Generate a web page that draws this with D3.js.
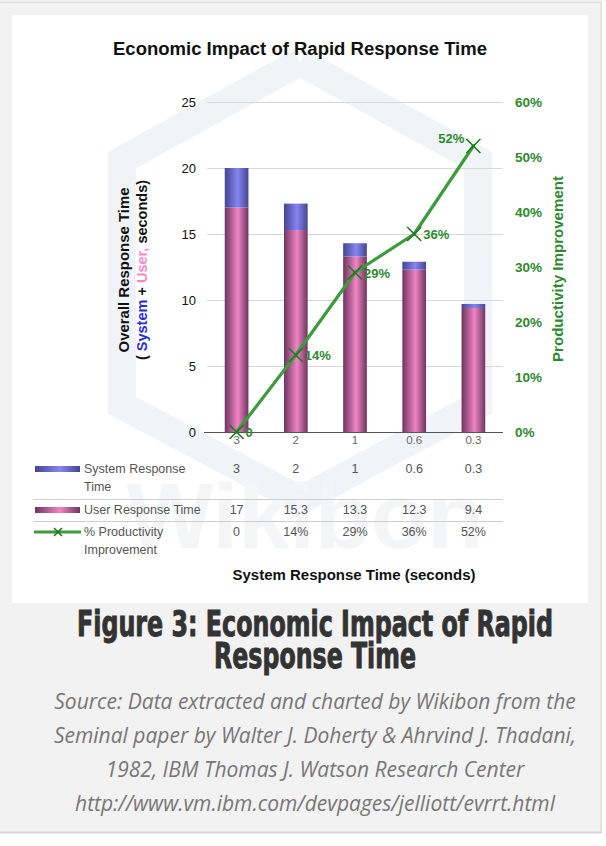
<!DOCTYPE html>
<html>
<head>
<meta charset="utf-8">
<script src="https://cdn.jsdelivr.net/npm/d3@7"></script>
<style>
  html, body { margin: 0; padding: 0; background: #ffffff; }
  svg { display: block; }
</style>
</head>
<body>
<script>
// chart values
var categories = ["3", "2", "1", "0.6", "0.3"];
var systemTime = [3, 2, 1, 0.6, 0.3];
var userTime = [17, 15.3, 13.3, 12.3, 9.4];
var productivity = [0, 14, 29, 36, 52];
var productivityLabels = ["0", "14%", "29%", "36%", "52%"];
var leftTicks = [0, 5, 10, 15, 20, 25];
var rightTicks = [0, 10, 20, 30, 40, 50, 60];
var sourceLines = [
    "Source: Data extracted and charted by Wikibon from the",
    "Seminal paper by Walter J. Doherty & Ahrvind J. Thadani,",
    "1982, IBM Thomas J. Watson Research Center",
    "http://www.vm.ibm.com/devpages/jelliott/evrrt.html"
];

var width = 606, height = 846;
var plot = { left: 207, right: 503, top: 102, bottom: 432 };
var green = "#2f8a2f";
var font = "'Liberation Sans', Arial, sans-serif";

var svg = d3.select("body").append("svg")
    .attr("width", width)
    .attr("height", height);

// gradients for the cylinder-like bars
var defs = svg.append("defs");
function cylinder(id, edge, mid) {
    var g = defs.append("linearGradient").attr("id", id)
        .attr("x1", "0%").attr("x2", "100%").attr("y1", "0%").attr("y2", "0%");
    g.append("stop").attr("offset", "0%").attr("stop-color", edge);
    g.append("stop").attr("offset", "55%").attr("stop-color", mid);
    g.append("stop").attr("offset", "100%").attr("stop-color", edge);
}
cylinder("gUser", "#6d3560", "#f184c4");
cylinder("gSys", "#454590", "#8585f2");

// page background and borders
svg.append("rect").attr("x", 0).attr("y", 0).attr("width", 602).attr("height", 833)
    .attr("fill", "#f2f2f2");
svg.append("line").attr("x1", 0).attr("x2", 602).attr("y1", 2.5).attr("y2", 2.5)
    .attr("stroke", "#dedede").attr("stroke-width", 1.5);
svg.append("line").attr("x1", 601).attr("x2", 601).attr("y1", 2).attr("y2", 833)
    .attr("stroke", "#dedede").attr("stroke-width", 1.5);
svg.append("line").attr("x1", 0).attr("x2", 602).attr("y1", 832.5).attr("y2", 832.5)
    .attr("stroke", "#d4d4d4").attr("stroke-width", 2);

// white chart panel
svg.append("rect").attr("x", 12).attr("y", 15).attr("width", 576).attr("height", 588)
    .attr("fill", "#ffffff");

// faint watermark
var wm = svg.append("g").attr("opacity", 0.45);
var hex = d3.line()([[300, 62], [478, 160], [478, 405], [300, 500], [122, 405], [122, 160], [300, 62]]);
wm.append("path").attr("d", hex).attr("fill", "none")
    .attr("stroke", "#e0e6ee").attr("stroke-width", 28);
wm.append("text").attr("x", 305).attr("y", 548).attr("text-anchor", "middle")
    .style("font-family", font)
    .style("font-size", "92px").style("font-weight", "bold")
    .attr("fill", "#e8ebee").text("Wikibon");

// scales
var xScale = d3.scaleBand().domain(categories)
    .range([plot.left, plot.right]).paddingInner(0.6).paddingOuter(0.3);
var yScale = d3.scaleLinear().domain([0, 25]).range([plot.bottom, plot.top]);
var y2Scale = d3.scaleLinear().domain([0, 60]).range([plot.bottom, plot.top]);

// title
svg.append("text").attr("x", 300).attr("y", 55).attr("text-anchor", "middle")
    .attr("textLength", 374).attr("lengthAdjust", "spacingAndGlyphs")
    .style("font-family", font)
    .style("font-size", "18px").style("font-weight", "bold")
    .attr("fill", "#111").text("Economic Impact of Rapid Response Time");

// gridlines
svg.append("g").selectAll("line").data(leftTicks.slice(1)).enter().append("line")
    .attr("x1", plot.left).attr("x2", plot.right)
    .attr("y1", function(d) { return yScale(d) + 0.5; })
    .attr("y2", function(d) { return yScale(d) + 0.5; })
    .attr("stroke", "#d8d8d8").attr("stroke-width", 1);

// left axis
var leftAxis = svg.append("g")
    .attr("transform", "translate(" + (plot.left - 11) + ",0)")
    .call(d3.axisLeft(yScale).tickValues(leftTicks).tickSize(0).tickPadding(0));
leftAxis.select(".domain").remove();
leftAxis.selectAll("text")
    .style("font-family", font)
    .style("font-size", "13px").attr("fill", "#111");

// right axis
var rightAxis = svg.append("g")
    .attr("transform", "translate(" + (plot.right + 12) + ",0)")
    .call(d3.axisRight(y2Scale).tickValues(rightTicks).tickSize(0).tickPadding(0)
        .tickFormat(function(d) { return d + "%"; }));
rightAxis.select(".domain").remove();
rightAxis.selectAll("text")
    .style("font-family", font)
    .style("font-size", "13.5px").style("font-weight", "bold").attr("fill", green);

// bars: user at bottom, system stacked on top
var bars = svg.append("g");
bars.selectAll(".user").data(categories).enter().append("rect")
    .attr("class", "user")
    .attr("x", function(d) { return xScale(d); })
    .attr("width", xScale.bandwidth())
    .attr("y", function(d, i) { return yScale(userTime[i]); })
    .attr("height", function(d, i) { return yScale(0) - yScale(userTime[i]); })
    .attr("fill", "url(#gUser)");
bars.selectAll(".sys").data(categories).enter().append("rect")
    .attr("class", "sys")
    .attr("x", function(d) { return xScale(d); })
    .attr("width", xScale.bandwidth())
    .attr("y", function(d, i) { return yScale(userTime[i] + systemTime[i]); })
    .attr("height", function(d, i) { return yScale(userTime[i]) - yScale(userTime[i] + systemTime[i]); })
    .attr("fill", "url(#gSys)");

// x axis line and category labels
var xAxis = svg.append("g")
    .attr("transform", "translate(0," + plot.bottom + ")")
    .call(d3.axisBottom(xScale).tickSize(0).tickPadding(4));
xAxis.select(".domain").attr("stroke", "#555").attr("stroke-width", 1.2)
    .attr("d", "M" + (plot.left - 3) + ",0.5H" + plot.right);
xAxis.selectAll("text")
    .style("font-family", font)
    .style("font-size", "11.5px").attr("fill", "#666");

// productivity line
var pts = categories.map(function(c, i) {
    return { x: xScale(c) + xScale.bandwidth() / 2, y: y2Scale(productivity[i]), label: productivityLabels[i] };
});
var valueline = d3.line()
    .x(function(d) { return d.x; })
    .y(function(d) { return d.y; });
svg.append("path").datum(pts)
    .attr("fill", "none").attr("stroke", "#3d9a3d")
    .attr("stroke-width", 3.2).attr("stroke-linecap", "round").attr("stroke-linejoin", "round")
    .attr("d", valueline);

var marks = svg.append("g").selectAll("g").data(pts).enter().append("g")
    .attr("transform", function(d) { return "translate(" + d.x + "," + d.y + ")"; });
marks.append("path").attr("d", "M-7,-7L7,7M-7,7L7,-7")
    .attr("stroke", "#1f7a1f").attr("stroke-width", 1.6);
marks.append("text")
    .attr("x", function(d, i) { return i === pts.length - 1 ? -9 : 9; })
    .attr("y", function(d, i) { return i === pts.length - 1 ? -3 : 5; })
    .attr("text-anchor", function(d, i) { return i === pts.length - 1 ? "end" : "start"; })
    .style("font-family", font)
    .style("font-size", "13px").style("font-weight", "bold")
    .attr("fill", green)
    .text(function(d) { return d.label; });

// axis titles
var ly = svg.append("g").attr("transform", "translate(129,270) rotate(-90)");
ly.append("text").attr("x", 0).attr("y", 0).attr("text-anchor", "middle")
    .attr("textLength", 165).attr("lengthAdjust", "spacingAndGlyphs")
    .style("font-family", font)
    .style("font-size", "14.5px").style("font-weight", "bold")
    .attr("fill", "#111").text("Overall Response Time");
var ly2 = ly.append("text").attr("x", 0).attr("y", 18).attr("text-anchor", "middle")
    .style("font-family", font)
    .style("font-size", "14.5px").style("font-weight", "bold").attr("fill", "#111");
ly2.append("tspan").text("( ");
ly2.append("tspan").attr("fill", "#2a2ae0").text("System");
ly2.append("tspan").text(" + ");
ly2.append("tspan").attr("fill", "#f08cc8").text("User,");
ly2.append("tspan").text(" seconds)");

svg.append("text").attr("transform", "translate(563,269) rotate(-90)")
    .attr("text-anchor", "middle")
    .attr("textLength", 186).attr("lengthAdjust", "spacingAndGlyphs")
    .style("font-family", font)
    .style("font-size", "15px").style("font-weight", "bold")
    .attr("fill", green).text("Productivity Improvement");

// data table under the chart
var tbl = svg.append("g")
    .style("font-family", font)
    .style("font-size", "12.5px").attr("fill", "#555");
var rows = [
    { y: 469, name: ["System Response", "Time"], vals: systemTime.map(String) },
    { y: 510, name: ["User Response Time"], vals: userTime.map(String) },
    { y: 532, name: ["% Productivity", "Improvement"], vals: productivityLabels }
];
rows.forEach(function(r) {
    r.name.forEach(function(t, k) {
        tbl.append("text").attr("x", 84).attr("y", r.y + 4 + k * 18).text(t);
    });
    tbl.selectAll(null).data(r.vals).enter().append("text")
        .attr("x", function(d, i) { return xScale(categories[i]) + xScale.bandwidth() / 2; })
        .attr("y", r.y + 4).attr("text-anchor", "middle").text(function(d) { return d; });
});
[499, 521].forEach(function(y) {
    tbl.append("line").attr("x1", 33).attr("x2", plot.right)
        .attr("y1", y + 0.5).attr("y2", y + 0.5)
        .attr("stroke", "#cfcfcf").attr("stroke-width", 1);
});
// legend swatches
tbl.append("rect").attr("x", 35).attr("y", rows[0].y - 3).attr("width", 45).attr("height", 6)
    .attr("fill", "url(#gSys)");
tbl.append("rect").attr("x", 35).attr("y", rows[1].y - 3).attr("width", 45).attr("height", 6)
    .attr("fill", "url(#gUser)");
tbl.append("line").attr("x1", 34).attr("x2", 81).attr("y1", rows[2].y).attr("y2", rows[2].y)
    .attr("stroke", "#3d9a3d").attr("stroke-width", 3);
tbl.append("path").attr("d", "M54,528L62,536M54,536L62,528")
    .attr("stroke", "#1f7a1f").attr("stroke-width", 1.6);

svg.append("text").attr("x", 354).attr("y", 580).attr("text-anchor", "middle")
    .attr("textLength", 243).attr("lengthAdjust", "spacingAndGlyphs")
    .style("font-family", font)
    .style("font-size", "14px").style("font-weight", "bold")
    .attr("fill", "#111").text("System Response Time (seconds)");

// figure caption
var cap = svg.append("g")
    .style("font-family", "'Liberation Sans Narrow', 'DejaVu Sans Condensed', sans-serif")
    .style("font-weight", "bold").style("font-size", "35px")
    .attr("fill", "#333").attr("stroke", "#333").attr("stroke-width", 0.9);
cap.append("text").attr("x", 315).attr("y", 636).attr("text-anchor", "middle")
    .attr("textLength", 476).attr("lengthAdjust", "spacingAndGlyphs")
    .text("Figure 3: Economic Impact of Rapid");
cap.append("text").attr("x", 315).attr("y", 668).attr("text-anchor", "middle")
    .attr("textLength", 202).attr("lengthAdjust", "spacingAndGlyphs")
    .text("Response Time");

svg.append("g").selectAll("text").data(sourceLines).enter().append("text")
    .attr("x", 315)
    .attr("y", function(d, i) { return 709 + i * 34; })
    .attr("text-anchor", "middle")
    .style("font-family", "'Open Sans', sans-serif")
    .style("font-style", "italic").style("font-size", "21px")
    .attr("fill", "#777")
    .text(function(d) { return d; });
</script>
</body>
</html>
